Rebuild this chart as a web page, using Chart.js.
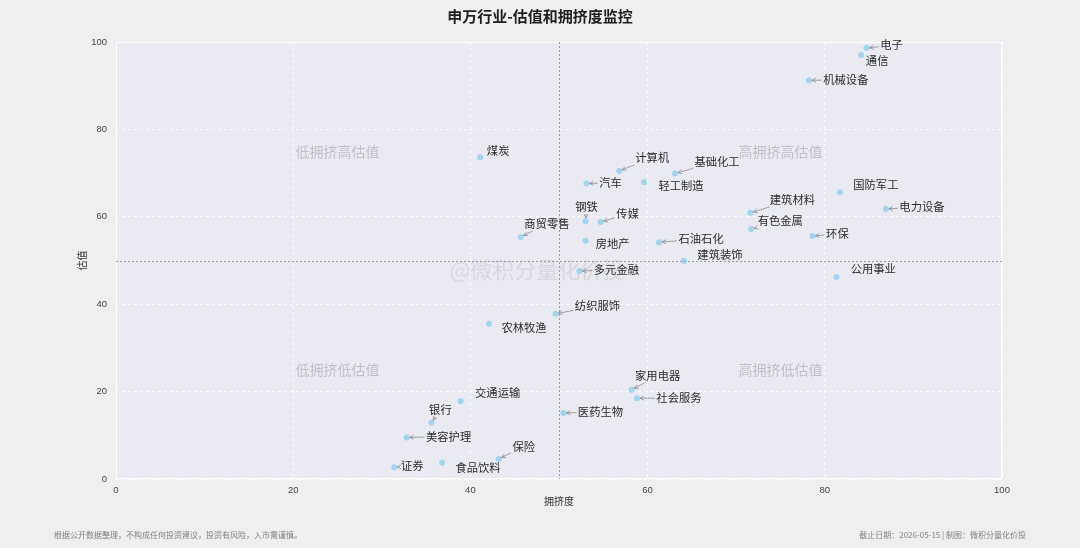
<!DOCTYPE html>
<html>
<head>
<meta charset="utf-8">
<script src="https://cdn.jsdelivr.net/npm/chart.js@4"></script>
<style>
  html, body { margin: 0; padding: 0; background: #efefef; }
  #wrap { width: 1080px; height: 548px; position: relative; }
</style>
</head>
<body>
<div id="wrap"><canvas id="chart" width="1080" height="548"></canvas></div>
<script>
// ===== Data
const industries = ['电子','通信','机械设备','煤炭','计算机','基础化工','汽车','轻工制造','国防军工','电力设备',
  '建筑材料','钢铁','传媒','有色金属','商贸零售','环保','房地产','石油石化','建筑装饰','多元金融',
  '公用事业','纺织服饰','农林牧渔','家用电器','社会服务','交通运输','医药生物','银行','美容护理','保险',
  '食品饮料','证券'];
const crowding = [84.7, 84.1, 78.2, 41.1, 56.8, 63.1, 53.1, 59.6, 81.7, 86.9,
  71.6, 53.0, 54.7, 71.7, 45.7, 78.6, 53.0, 61.3, 64.1, 52.3,
  81.3, 49.6, 42.1, 58.2, 58.8, 38.9, 50.5, 35.6, 32.8, 43.2,
  36.8, 31.4];
const valuation = [98.6, 97.0, 91.2, 73.6, 70.5, 69.9, 67.6, 67.9, 65.6, 61.8,
  60.9, 59.0, 58.8, 57.2, 55.4, 55.6, 54.5, 54.2, 49.9, 47.6,
  46.2, 37.8, 35.5, 20.4, 18.5, 17.8, 15.1, 12.9, 9.5, 4.6,
  3.7, 2.7];
const xTicks = [0, 20, 40, 60, 80, 100];
const yTicks = [0, 20, 40, 60, 80, 100];
const quadrants = [
  { text: '低拥挤高估值', x: 25, y: 75 },
  { text: '高拥挤高估值', x: 75, y: 75 },
  { text: '低拥挤低估值', x: 25, y: 25 },
  { text: '高拥挤低估值', x: 75, y: 25 }
];

// label placement (pixel offset from the point, label centre) + whether an arrow is drawn
const labelOffsets = [
  [25,-3,1],[16,6,0],[37,-1,1],[18,-7,0],[33,-13,1],[42,-12,1],[24,-1,1],[37,3,0],[36,-8,0],[36,-2,1],
  [42,-13,1],[1,-14,1],[27,-8,1],[29,-8,1],[26,-13,1],[25,-2,1],[27,3,0],[42,-3,1],[36,-6,0],[37,-1,1],
  [37,-8,0],[42,-8,1],[35,4,0],[26,-14,1],[42,0,1],[37,-9,0],[37,-1,1],[9,-13,1],[42,-1,1],[25,-12,1],
  [36,5,0],[18,-1,1]
];

const CJK = '"Noto Sans CJK SC", "Noto Sans", sans-serif';
const NUM = '"Liberation Sans Narrow", "Liberation Sans", sans-serif';

// ===== Plugin: background, grid extras, quadrant text, watermark, labels, title, footer
const decor = {
  id: 'decor',
  beforeDraw(chart) {
    const { ctx, chartArea: a } = chart;
    ctx.save();
    ctx.fillStyle = '#efefef';
    ctx.fillRect(0, 0, chart.width, chart.height);
    ctx.fillStyle = '#eaeaf2';
    ctx.fillRect(a.left, a.top, a.right - a.left, a.bottom - a.top);
    ctx.restore();
  },
  beforeDatasetsDraw(chart) {
    const { ctx, chartArea: a, scales: { x, y } } = chart;
    ctx.save();
    // plot frame
    ctx.strokeStyle = '#ffffff';
    ctx.lineWidth = 1;
    ctx.strokeRect(a.left + 0.5, a.top + 0.5, a.right - a.left - 1, a.bottom - a.top - 1);

    // quadrant texts
    ctx.font = '14px ' + CJK;
    ctx.fillStyle = '#bfbfc6';
    ctx.textAlign = 'center';
    ctx.textBaseline = 'middle';
    quadrants.forEach(q => ctx.fillText(q.text, x.getPixelForValue(q.x), y.getPixelForValue(q.y)));

    // watermark
    ctx.font = '22px ' + CJK;
    ctx.fillStyle = 'rgba(200,200,208,0.55)';
    ctx.fillText('@微积分量化价投', x.getPixelForValue(47.5), y.getPixelForValue(47.8));

    // midlines
    ctx.strokeStyle = '#9a9a9a';
    ctx.setLineDash([2, 2]);
    const mx = Math.round(x.getPixelForValue(50)) + 0.5;
    const my = Math.round(y.getPixelForValue(50)) + 0.5;
    ctx.beginPath();
    ctx.moveTo(mx, a.top); ctx.lineTo(mx, a.bottom);
    ctx.moveTo(a.left, my); ctx.lineTo(a.right, my);
    ctx.stroke();
    ctx.restore();
  },
  afterDatasetsDraw(chart) {
    const { ctx, scales: { x, y } } = chart;
    ctx.save();
    ctx.font = '11.3px ' + CJK;
    ctx.textAlign = 'center';
    ctx.textBaseline = 'middle';
    industries.forEach((name, i) => {
      const px = x.getPixelForValue(crowding[i]);
      const py = y.getPixelForValue(valuation[i]);
      const [dx, dy, arrow] = labelOffsets[i];
      const lx = px + dx, ly = py + dy;
      if (arrow) {
        const w = ctx.measureText(name).width / 2 + 1.5;
        const h = 7;
        const vx = px - lx, vy = py - ly;
        const t = Math.min(vx ? w / Math.abs(vx) : Infinity, vy ? h / Math.abs(vy) : Infinity);
        const sx = lx + vx * t, sy = ly + vy * t;
        const len = Math.hypot(px - sx, py - sy);
        if (len > 3) {
          const ux = (px - sx) / len, uy = (py - sy) / len;
          const ex = px - ux * 3, ey = py - uy * 3;
          ctx.strokeStyle = '#8c8c8c';
          ctx.lineWidth = 0.8;
          ctx.beginPath();
          ctx.moveTo(sx, sy); ctx.lineTo(ex, ey);
          // open arrow head
          const hl = 4, hw = 2;
          ctx.moveTo(ex - ux * hl - uy * hw, ey - uy * hl + ux * hw);
          ctx.lineTo(ex, ey);
          ctx.lineTo(ex - ux * hl + uy * hw, ey - uy * hl - ux * hw);
          ctx.stroke();
        }
      }
      ctx.fillStyle = '#2b2b2b';
      ctx.fillText(name, lx, ly);
    });
    ctx.restore();
  },
  afterDraw(chart) {
    const { ctx } = chart;
    ctx.save();
    ctx.fillStyle = '#1e1e1e';
    ctx.textAlign = 'center';
    ctx.textBaseline = 'middle';
    ctx.font = 'bold 15px ' + CJK;
    ctx.fillText('申万行业-估值和拥挤度监控', 540, 16);

    ctx.font = '8px ' + CJK;
    ctx.fillStyle = '#808080';
    ctx.textAlign = 'left';
    ctx.fillText('根据公开数据整理，不构成任何投资建议，投资有风险，入市需谨慎。', 54, 535);
    ctx.textAlign = 'right';
    ctx.fillText('截止日期：2026-05-15 | 制图：微积分量化价投', 1026, 535);
    ctx.restore();
  }
};

const points = crowding.map((c, i) => ({ x: c, y: valuation[i] }));

new Chart(document.getElementById('chart').getContext('2d'), {
  type: 'scatter',
  data: {
    datasets: [{
      data: points,
      pointRadius: 3,
      pointHoverRadius: 3,
      pointBackgroundColor: 'rgba(135,206,235,0.75)',
      pointBorderWidth: 0
    }]
  },
  options: {
    responsive: false,
    animation: false,
    events: [],
    layout: { padding: { top: 42, right: 78, left: 72, bottom: 39 } },
    plugins: { legend: { display: false }, tooltip: { enabled: false } },
    scales: {
      x: {
        type: 'linear', min: 0, max: 100,
        afterBuildTicks: s => { s.ticks = xTicks.map(v => ({ value: v })); },
        afterFit: s => { s.height = 30; },
        grid: { color: '#ffffff', lineWidth: 0.8, drawTicks: false, tickBorderDash: [3, 3] },
        border: { display: false, dash: [3, 3] },
        ticks: { color: '#444', padding: 6, font: { family: NUM, size: 9.5 }, maxRotation: 0 },
        title: { display: true, text: '拥挤度', color: '#333', padding: { top: 0, bottom: 2 }, font: { family: CJK, size: 10 } }
      },
      y: {
        type: 'linear', min: 0, max: 100,
        afterBuildTicks: s => { s.ticks = yTicks.map(v => ({ value: v })); },
        afterFit: s => { s.width = 44; },
        grid: { color: '#ffffff', lineWidth: 0.8, drawTicks: false },
        border: { display: false, dash: [3, 3] },
        ticks: { color: '#444', padding: 9, font: { family: NUM, size: 9.5 } },
        title: { display: true, text: '估值', color: '#333', padding: { top: 4, bottom: 0 }, font: { family: CJK, size: 10 } }
      }
    }
  },
  plugins: [decor]
});
</script>
</body>
</html>
